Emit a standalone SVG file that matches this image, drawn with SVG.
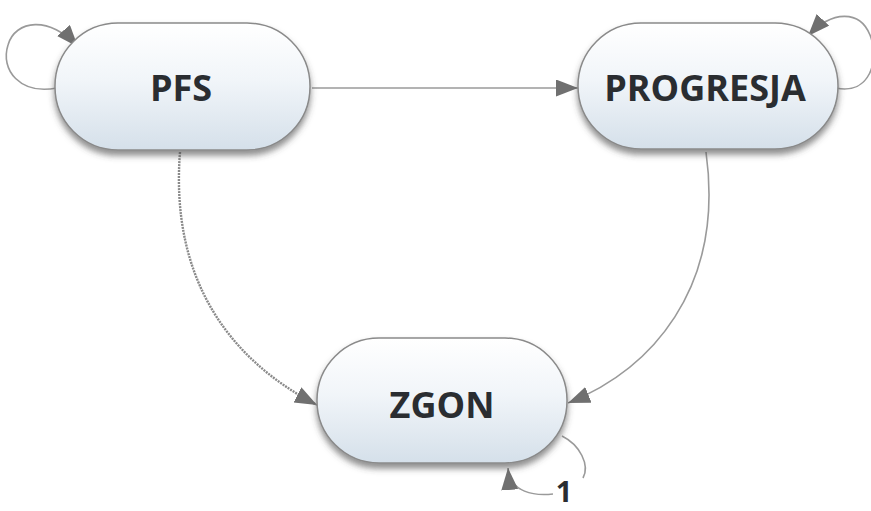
<svg xmlns="http://www.w3.org/2000/svg" width="871" height="511" viewBox="0 0 871 511">
<style>
.node{fill:url(#g);stroke:#8a8a8a;stroke-width:1.5;filter:url(#sh)}
.lbl{font-family:"Open Sans","Liberation Sans",sans-serif;font-weight:700;font-size:36px;fill:#2a2d31;text-anchor:middle}
.edge{fill:none;stroke:#9a9a9a;stroke-width:1.6}
.dash{stroke:#8a8a8a;stroke-width:2.4;stroke-dasharray:2 1}
</style>
<defs>
<linearGradient id="g" x1="0" y1="0" x2="0" y2="1">
<stop offset="0" stop-color="#ffffff"/>
<stop offset="0.45" stop-color="#f1f5f9"/>
<stop offset="1" stop-color="#d5e0ea"/>
</linearGradient>
<filter id="sh" x="-10%" y="-10%" width="120%" height="130%">
<feDropShadow dx="0" dy="5" stdDeviation="3" flood-color="#444" flood-opacity="0.6"/>
</filter>
<marker id="ar" markerUnits="userSpaceOnUse" markerWidth="24" markerHeight="18" refX="22" refY="8.5" orient="auto">
<path d="M0,0 L22,8.5 L0,17 z" fill="#707070"/>
</marker>
</defs>
<g id="connectors">
<path class="edge" d="M57,88 C20,95 0,70 8,45 C15,20 50,15 78,47" marker-end="url(#ar)"/>
<path class="edge" d="M836,88 C870,95 880,60 870,35 C860,10 832,10 808,36" marker-end="url(#ar)"/>
<path class="edge" d="M312,88 L578,88" marker-end="url(#ar)"/>
<path class="edge dash" d="M180,152 C170,280 230,360 317,405" marker-end="url(#ar)"/>
<path class="edge" d="M706,152 C725,290 650,370 568,403" marker-end="url(#ar)"/>
<path class="edge" d="M562,436 C580,445 590,465 583,478"/>
<path class="edge" d="M553,494 C535,496 510,493 508,468" marker-end="url(#ar)"/>
</g>
<g id="PFS">
<rect class="node" x="55" y="23" width="255" height="127" rx="63"/>
<text class="lbl" x="181" y="101">PFS</text>
</g>
<g id="PROGRESJA">
<rect class="node" x="578" y="23" width="260" height="126" rx="63"/>
<text class="lbl" x="705" y="101">PROGRESJA</text>
</g>
<g id="ZGON">
<rect class="node" x="317" y="338" width="250" height="125" rx="62"/>
<text class="lbl" x="442" y="418">ZGON</text>
</g>
<text class="lbl" x="564" y="502" style="font-size:29px">1</text>
</svg>
